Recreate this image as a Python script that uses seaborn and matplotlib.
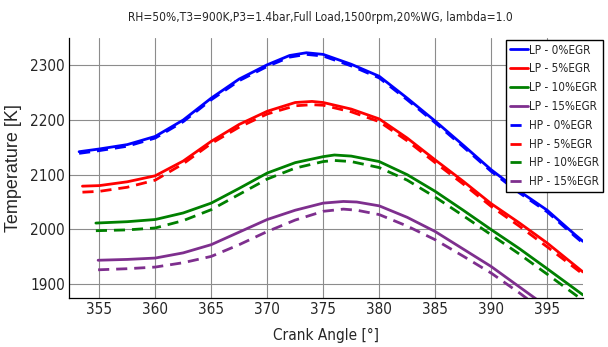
import matplotlib
matplotlib.use("Agg")
import matplotlib.pyplot as plt
import seaborn as sns
import pandas as pd

# ---- data ----
x_blue = [353.2, 355, 357.5, 360, 362.5, 365, 367.5, 370, 372, 373.5, 375, 377.5, 380, 382.5, 385, 387.5, 390, 392.5, 395, 397.5, 398.2]
lp0 = [2142, 2147, 2155, 2170, 2200, 2240, 2275, 2301, 2318, 2323, 2320, 2302, 2280, 2240, 2198, 2154, 2109, 2070, 2035, 1990, 1978]
hp0 = [2139, 2144, 2152, 2167, 2197, 2237, 2272, 2298, 2315, 2320, 2317, 2299, 2277, 2237, 2195, 2151, 2106, 2067, 2032, 1987, 1975]

x_red = [353.5, 355, 357.5, 360, 362.5, 365, 367.5, 370, 372.5, 374, 375, 377.5, 380, 382.5, 385, 387.5, 390, 392.5, 395, 398.2]
lp5 = [2079, 2080, 2087, 2098, 2125, 2161, 2192, 2216, 2232, 2234, 2232, 2220, 2202, 2167, 2127, 2088, 2047, 2012, 1975, 1922]
hp5 = [2068, 2069.5, 2077, 2090, 2120, 2157, 2187, 2211, 2226, 2228, 2227, 2215, 2197, 2162, 2122, 2083, 2042, 2006, 1968, 1918]

x_green = [354.7, 357.5, 360, 362.5, 365, 367.5, 370, 372.5, 375, 376, 377.5, 380, 382.5, 385, 387.5, 390, 392.5, 395, 398.2]
lp10 = [2011.5, 2014, 2018, 2030, 2048, 2075, 2103, 2122, 2133, 2136, 2134, 2124, 2100, 2069.5, 2035, 1999.5, 1965, 1928, 1880]
hp10 = [1997.5, 1999, 2002.5, 2016, 2036, 2064, 2092, 2112, 2124, 2126, 2124, 2113, 2090, 2059, 2025, 1990, 1955, 1918, 1870]

x_purple = [354.9, 357.5, 360, 362.5, 365, 367.5, 370, 372.5, 375, 376.8, 378, 380, 382.5, 385, 387.5, 390, 392.5, 395]
lp15 = [1943.5, 1945, 1947.5, 1957, 1972, 1995, 2018, 2035, 2048, 2051, 2050, 2043, 2022, 1996, 1964, 1932, 1895, 1858]
hp15 = [1926, 1928, 1931, 1939, 1950.5, 1972, 1996, 2017, 2033, 2037, 2035, 2027, 2006, 1981, 1951, 1920, 1884, 1846]

xticks = [355, 360, 365, 370, 375, 380, 385, 390, 395]
yticks = [1900, 2000, 2100, 2200, 2300]

series = [
    ("LP - 0%EGR", x_blue, lp0, "#0000FF", "-"),
    ("LP - 5%EGR", x_red, lp5, "#FF0000", "-"),
    ("LP - 10%EGR", x_green, lp10, "#008000", "-"),
    ("LP - 15%EGR", x_purple, lp15, "#7E2F8E", "-"),
    ("HP - 0%EGR", x_blue, hp0, "#0000FF", "--"),
    ("HP - 5%EGR", x_red, hp5, "#FF0000", "--"),
    ("HP - 10%EGR", x_green, hp10, "#008000", "--"),
    ("HP - 15%EGR", x_purple, hp15, "#7E2F8E", "--"),
]

sns.set_theme(style="white")
plt.rcParams['font.family'] = ['DejaVu Sans']
plt.rcParams['font.stretch'] = 'condensed'

fig = plt.figure(figsize=(6.08, 3.47), dpi=100)
ax = fig.add_axes([0.1135, 0.1421, 0.8454, 0.7484])

for name, xs, ys, col, ls in series:
    df = pd.DataFrame({"x": xs, "y": ys})
    sns.lineplot(data=df, x="x", y="y", ax=ax, color=col, linewidth=2.0,
                 linestyle=ls, label=name, sort=False, estimator=None)
    if ls == "--":
        ax.lines[-1].set_dashes([4, 2.5])

ax.set_xlim(352.3, 398.2)
ax.set_ylim(1875, 2350)
ax.set_xticks(xticks)
ax.set_yticks(yticks)
ax.tick_params(axis="both", direction="in", length=4, width=0.8, labelsize=11, color="black", pad=3)
ax.grid(True, color="#8c8c8c", linewidth=0.8)
for s in ["top", "right"]:
    ax.spines[s].set_visible(False)
for s in ["left", "bottom"]:
    ax.spines[s].set_color("black")
    ax.spines[s].set_linewidth(0.9)

ax.set_xlabel("Crank Angle [°]", fontsize=11)
ax.xaxis.set_label_coords(0.5, -0.115)
ax.set_ylabel("Temperature [K]", fontsize=13, family=['Liberation Sans', 'DejaVu Sans'], stretch='normal')
ax.yaxis.set_label_coords(-0.092, 0.5)

fig.text(0.527, 1 - 18 / 347, "RH=50%,T3=900K,P3=1.4bar,Full Load,1500rpm,20%WG, lambda=1.0",
         ha="center", va="center", fontsize=8.6)

leg = ax.legend(loc="upper right", bbox_to_anchor=(603 / 608, 1 - 40 / 347),
                bbox_transform=fig.transFigure, fontsize=8.4, frameon=True,
                fancybox=False, framealpha=1, edgecolor="black",
                handlelength=1.6, handletextpad=0.1, labelspacing=0.5,
                borderpad=0.3, borderaxespad=0)
leg.get_frame().set_linewidth(1.0)

fig.savefig("out.png", dpi=100)
